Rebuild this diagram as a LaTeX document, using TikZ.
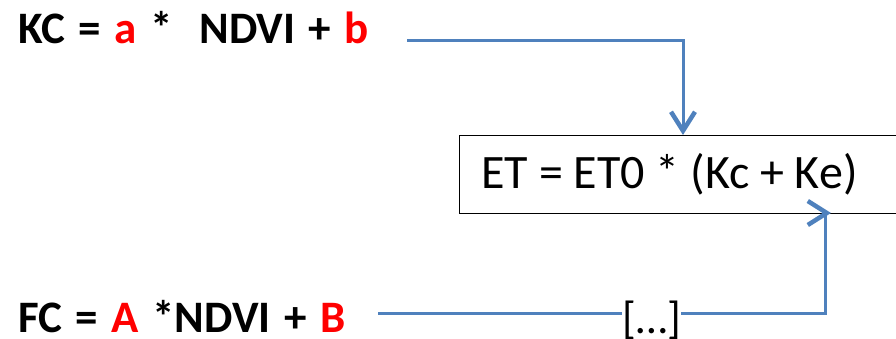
\documentclass[tikz,border=0pt]{standalone}
\usepackage{fontspec}
\setmainfont{Carlito}
\usepackage{tikz}
\usetikzlibrary{arrows.meta,positioning,calc}
\definecolor{flowblue}{HTML}{4F81BD}
\definecolor{coefred}{HTML}{FF0000}
\newcommand{\coef}[1]{\textcolor{coefred}{#1}}
\newcommand{\widespace}{\spaceskip=0.30em\relax}

\begin{document}
\begin{tikzpicture}[x=1pt,y=-1pt,
  eqn/.style={anchor=base west, inner sep=0pt,
              font=\fontsize{45}{54}\selectfont\bfseries\widespace},
  etbox/.style={draw=black, thick, anchor=north west,
              minimum height=78pt, inner xsep=22pt,
              font=\fontsize{48}{58}\selectfont},
  flow/.style={-{Straight Barb[length=19pt,width=24pt,line width=4.5pt]},
              line width=3pt, draw=flowblue},
  skiplabel/.style={anchor=base west, inner sep=0pt, fill=white,
              font=\fontsize{45}{54}\selectfont}
]
  \useasboundingbox (0,0) rectangle (896,339);
  \node[eqn] (kc) at (18,44) {KC = \coef{a} *\ \ NDVI + \coef{b}};
  \node[eqn] (fc) at (18,332) {FC = \coef{A} *NDVI + \coef{B}};
  \node[etbox] (et) at (459,135)
    {\makebox[430pt][l]{ET = ET0 * (Kc + Ke)}};
  \coordinate (kcout) at (407,41);
  \coordinate (etin) at (683,135);
  \coordinate (fcout) at (378,313);
  \coordinate (fcup) at (825,313);
  \coordinate (etcorner) at (825,213);
  \coordinate (etend) at (831,213);
  \draw[flow] (kcout) -| (etin);
  \draw[flow] (fcout) -- (fcup) -- (etcorner) -- (etend);
  \node[skiplabel] (skip) at (622,333) {[…]};
\end{tikzpicture}
\end{document}
